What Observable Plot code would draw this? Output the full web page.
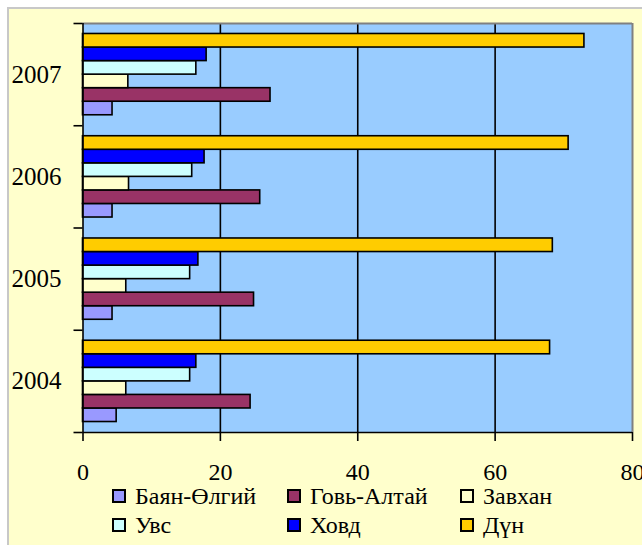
<!DOCTYPE html>
<html><head><meta charset="utf-8">
<script src="https://cdn.jsdelivr.net/npm/d3@7"></script>
<script src="https://cdn.jsdelivr.net/npm/@observablehq/plot@0.6"></script>
<style>
html,body{margin:0;padding:0;background:#fff;width:642px;height:545px;overflow:hidden;position:relative}
#box{position:absolute;left:7px;top:7px;width:640px;height:545px;background:#FFFFCC;border-left:2px solid #c8c8c8;border-top:2px solid #c8c8c8;}
#chart{position:absolute;left:0;top:0}
#legend{position:absolute;left:0;top:0;font-family:'Liberation Serif','Times New Roman','DejaVu Serif',serif;font-size:24px;color:#000;}
.item{position:absolute;display:flex;align-items:center;white-space:nowrap;height:24px;line-height:24px}
.sw{width:10px;height:10px;border:2px solid #000;margin-right:9px;flex:none}
</style></head><body>
<div id="box"></div>
<div id="chart"></div>
<div id="legend"></div>
<script>
const years = ["2004", "2005", "2006", "2007"];
const series = ["Баян-Өлгий", "Говь-Алтай", "Завхан", "Увс", "Ховд", "Дүн"];
const colors = ["#9999FF", "#993366", "#FFFFCC", "#CCFFFF", "#0000FF", "#FFCC00"];
const bayanOlgii = [4.9, 4.3, 4.3, 4.3];
const govAltai = [24.4, 24.9, 25.8, 27.3];
const zavkhan = [6.3, 6.3, 6.7, 6.6];
const uvs = [15.6, 15.6, 15.9, 16.5];
const khovd = [16.5, 16.8, 17.7, 18.0];
const total = [68.0, 68.4, 70.7, 73.0];
const xTicks = [0, 20, 40, 60, 80];

const values = [bayanOlgii, govAltai, zavkhan, uvs, khovd, total];
const data = [];
years.forEach((yr, i) => series.forEach((s, j) => data.push({year: yr, yi: i, series: s, sj: j, value: values[j][i]})));

// band layout within each year group (group spans 1 unit)
const pad = 0.1025, w = (1 - 2 * pad) / series.length;
const yIdx = years.map((d, i) => i);
const bounds = years.map((d, i) => i - 0.5).concat([years.length - 0.5]);
const serif = "'Liberation Serif','Times New Roman','DejaVu Serif',serif";

const chart = Plot.plot({
  width: 642,
  height: 490,
  marginLeft: 82.5,
  marginRight: 10,
  marginTop: 23,
  marginBottom: 58,
  style: {background: "transparent", fontFamily: serif, fontSize: "24px", color: "#000"},
  x: {domain: [0, 80], label: null},
  y: {type: "linear", domain: [-0.5, years.length - 0.5], label: null},
  color: {domain: series, range: colors},
  marks: [
    Plot.frame({fill: "#99CCFF", stroke: null}),
    Plot.ruleX([20, 40, 60], {stroke: "#000", strokeWidth: 1.6}),
    Plot.ruleX([80], {stroke: "#808080", strokeWidth: 2}),
    Plot.ruleY([years.length - 0.5], {stroke: "#808080", strokeWidth: 2}),
    Plot.rectX(data, {
      x1: d => 0,
      x2: "value",
      y1: d => d.yi - 0.5 + pad + d.sj * w,
      y2: d => d.yi - 0.5 + pad + (d.sj + 1) * w,
      fill: "series",
      stroke: "#000",
      strokeWidth: 1.6
    }),
    Plot.ruleX([0], {stroke: "#000", strokeWidth: 1.6}),
    Plot.ruleY([-0.5], {stroke: "#000", strokeWidth: 1.6}),
    Plot.axisX({ticks: xTicks, tickSize: 9, tickPadding: 21, strokeWidth: 1.6, fontSize: 24, fontFamily: serif, label: null, tickFormat: d => String(d)}),
    Plot.axisY({ticks: bounds, tickSize: 9, strokeWidth: 1.6, label: null, tickFormat: () => ""}),
    Plot.axisY({ticks: yIdx, tickSize: 0, tickPadding: 21.5, fontSize: 25, fontFamily: serif, label: null, tickFormat: i => years[i]})
  ]
});
document.getElementById("chart").appendChild(chart);

// legend (3 columns x 2 rows)
const colX = [112, 287, 460];
const rowY = [484, 513];
const leg = document.getElementById("legend");
series.forEach((s, k) => {
  const it = document.createElement("div");
  it.className = "item";
  it.style.left = colX[k % 3] + "px";
  it.style.top = rowY[Math.floor(k / 3)] + "px";
  const sw = document.createElement("span");
  sw.className = "sw";
  sw.style.background = colors[k];
  const tx = document.createElement("span");
  tx.textContent = s;
  it.appendChild(sw);
  it.appendChild(tx);
  leg.appendChild(it);
});
</script>
</body></html>
